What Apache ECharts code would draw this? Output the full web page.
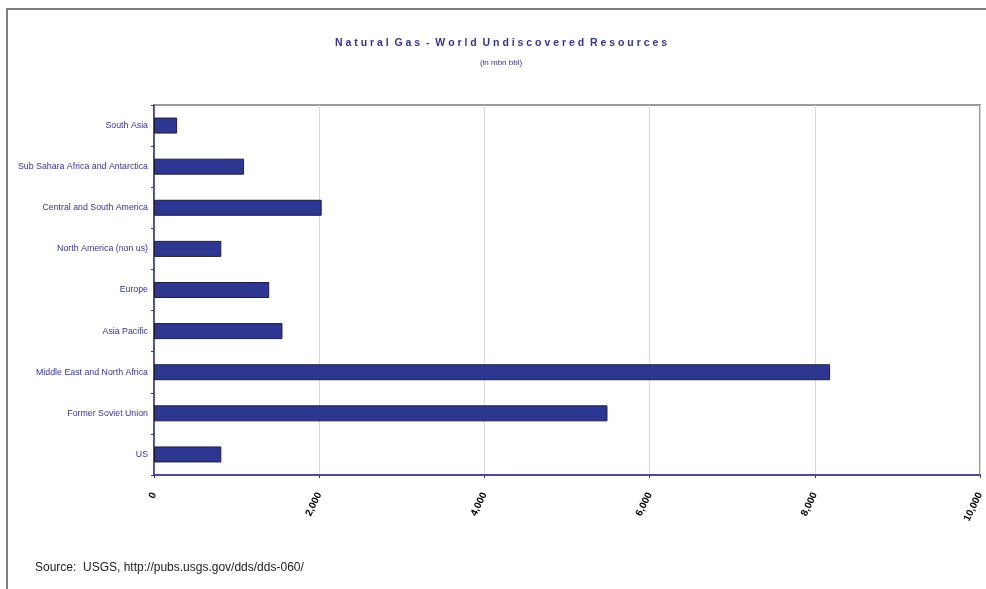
<!DOCTYPE html>
<html>
<head>
<meta charset="utf-8">
<script src="https://cdn.jsdelivr.net/npm/echarts@6/dist/echarts.min.js"></script>
<style>
html,body{margin:0;padding:0;background:#fff;}
#chart{width:986px;height:589px;}
</style>
</head>
<body>
<div id="chart"></div>
<script>
var categories = ["US", "Former Soviet Union", "Middle East and North Africa", "Asia Pacific", "Europe", "North America (non us)", "Central and South America", "Sub Sahara Africa and Antarctica", "South Asia"];
var values = [815, 5490, 8185, 1555, 1395, 815, 2030, 1090, 280];
var tickMin = 0, tickMax = 10000, tickStep = 2000;

var FONT = "'Liberation Sans', Arial, sans-serif";
var chart = echarts.init(document.getElementById('chart'), null, {renderer: 'canvas'});
chart.setOption({
  backgroundColor: '#fff',
  animation: false,
  title: [{
    text: 'N a t u r a l  G a s  -  W o r l d  U n d i s c o v e r e d  R e s o u r c e s',
    left: 496, top: 33, textAlign: 'center',
    textStyle: {fontFamily: FONT, fontSize: 10.5, fontWeight: 'bold', color: '#333399'}
  }, {
    text: '(in mbn bbl)',
    left: 496, top: 54, textAlign: 'center',
    textStyle: {fontFamily: FONT, fontSize: 8, fontWeight: 'normal', color: '#333399'}
  }],
  graphic: [{
    type: 'polyline', silent: true,
    shape: {points: [[7, 589], [7, 9], [986, 9]]},
    style: {stroke: '#555', lineWidth: 1.5, fill: null}
  }, {
    type: 'text', left: 35, top: 562,
    style: {text: 'Source:  USGS, http://pubs.usgs.gov/dds/dds-060/', font: "12px 'Liberation Sans', Arial, sans-serif", fill: '#222'}
  }],
  grid: {left: 154, right: 6, top: 105, bottom: 114, show: true, borderColor: '#999', borderWidth: 2, backgroundColor: 'transparent'},
  xAxis: {
    type: 'value', min: tickMin, max: tickMax, interval: tickStep,
    axisLine: {show: true, lineStyle: {color: '#333399', width: 1.5}},
    axisTick: {show: true, length: 3, lineStyle: {color: '#333399'}},
    splitLine: {show: true, lineStyle: {color: '#d8d8d8', width: 1}},
    axisLabel: {
      rotate: 64, margin: 18, color: '#000', fontSize: 10, fontFamily: FONT, fontWeight: 'bold',
      formatter: function (v) { return v.toLocaleString('en-US'); }
    }
  },
  yAxis: {
    type: 'category', data: categories,
    axisLine: {show: true, lineStyle: {color: '#333399', width: 1.5}},
    axisTick: {show: true, length: 3, lineStyle: {color: '#333399'}},
    splitLine: {show: false},
    axisLabel: {color: '#333399', fontSize: 8.8, fontFamily: FONT, margin: 6}
  },
  series: [{
    type: 'bar', data: values, barWidth: 16,
    itemStyle: {color: '#2D3691', borderColor: '#1e1e3c', borderWidth: 1},
    silent: true
  }]
});
</script>
</body>
</html>
